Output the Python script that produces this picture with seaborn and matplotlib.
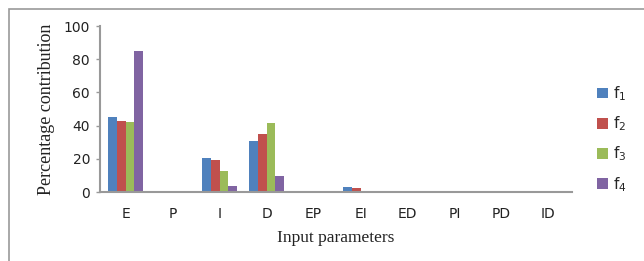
import pandas as pd
import matplotlib.pyplot as plt
import seaborn as sns
from matplotlib.patches import Rectangle

# values
params = ['E', 'P', 'I', 'D', 'EP', 'EI', 'ED', 'PI', 'PD', 'ID']
f1 = [45.0, 0, 20.5, 30.5, 0, 3.0, 0, 0, 0, 0]
f2 = [43.0, 0, 19.5, 35.0, 0, 2.5, 0, 0, 0, 0]
f3 = [42.0, 0, 13.0, 41.5, 0, 0, 0, 0, 0, 0]
f4 = [85.0, 0, 3.5, 9.5, 0, 0, 0, 0, 0, 0]
series = ['f$_1$', 'f$_2$', 'f$_3$', 'f$_4$']
colors = ['#4F81BD', '#C0504D', '#9BBB59', '#8064A2']

df = pd.DataFrame({'param': params, series[0]: f1, series[1]: f2,
                   series[2]: f3, series[3]: f4})
long = df.melt(id_vars='param', var_name='response', value_name='pct')

sns.set_style('white')
plt.rcParams['font.family'] = ['DejaVu Sans']

fig = plt.figure(figsize=(6.44, 2.61), dpi=100)
ax = fig.add_axes([0.155, 0.264, 0.733, 0.636])

sns.barplot(data=long, x='param', y='pct', hue='response', order=params,
            hue_order=series, palette=colors, width=0.75, saturation=1,
            edgecolor='none', linewidth=0, ax=ax)

ax.set_ylim(0, 100)
ax.set_xlim(-0.55, 9.5)
ax.set_yticks([0, 20, 40, 60, 80, 100])
ax.tick_params(axis='y', labelsize=10, length=3, width=1, color='#999999',
               left=True, pad=4, labelcolor='#222222')
ax.tick_params(axis='x', labelsize=10, length=0, pad=11, labelcolor='#222222')

for s in ['top', 'right']:
    ax.spines[s].set_visible(False)
for s in ['left', 'bottom']:
    ax.spines[s].set_color('#999999')
    ax.spines[s].set_linewidth(1.5)

ax.set_xlabel('Input parameters', family='Liberation Serif', fontsize=12.5,
              color='#222222', labelpad=6)
ax.set_ylabel('Percentage contribution', family='Liberation Serif', fontsize=13,
              color='#222222', labelpad=6)

ax.legend(loc='center left', bbox_to_anchor=(1.025, 0.32), frameon=False,
          fontsize=11, handlelength=0.7, handleheight=0.7, handletextpad=0.3,
          labelspacing=0.75)

# outer frame of the figure box
fig.patches.append(Rectangle((9 / 644, -0.1), 1.0, 1 - 9 / 261 + 0.1,
                             transform=fig.transFigure, fill=False,
                             edgecolor='#999999', linewidth=1.2))

fig.savefig('out.png', dpi=100)
